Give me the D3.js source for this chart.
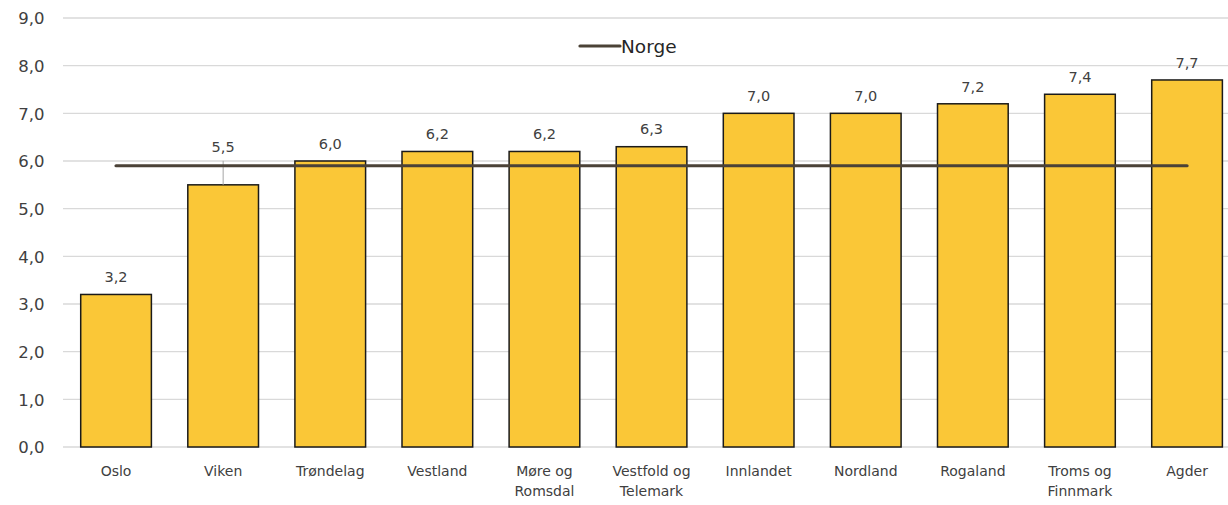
<!DOCTYPE html>
<html><head><meta charset="utf-8">
<script src="https://cdn.jsdelivr.net/npm/d3@7"></script>
<style>body{margin:0;background:#fff}svg{display:block}</style>
</head><body><svg id="c" width="1228" height="505"></svg>
<script>
const categories = ["Oslo","Viken","Trøndelag","Vestland","Møre og Romsdal","Vestfold og Telemark","Innlandet","Nordland","Rogaland","Troms og Finnmark","Agder"];
const values = [3.2,5.5,6.0,6.2,6.2,6.3,7.0,7.0,7.2,7.4,7.7];
const norge = [5.9,5.9,5.9,5.9,5.9,5.9,5.9,5.9,5.9,5.9,5.9];
const yTicks = [0,1,2,3,4,5,6,7,8,9];
const catLines = {"Møre og Romsdal":["Møre og","Romsdal"],"Vestfold og Telemark":["Vestfold og","Telemark"],"Troms og Finnmark":["Troms og","Finnmark"]};

const svg = d3.select("#c");
const font = "DejaVu Sans, Verdana, sans-serif";
const x = d3.scaleBand().domain(categories).range([62.5,1240.6]).paddingInner(0.34).paddingOuter(0.17);
const y = d3.scaleLinear().domain([0,9]).range([447,18]);
const fmt = v => d3.format(".1f")(v).replace(".",",");

const g = svg.append("g");
g.selectAll(".grid").data(yTicks).join("line")
  .attr("x1",63).attr("x2",1228).attr("y1",d=>y(d)).attr("y2",d=>y(d))
  .attr("stroke","#d9d9d9").attr("stroke-width",1.3);

const yAxis = d3.axisLeft(y).tickValues(yTicks).tickFormat(fmt).tickSize(0);
const ya = svg.append("g").attr("transform","translate(44.5,0)").call(yAxis);
ya.select(".domain").remove();
ya.selectAll("text").attr("font-family",font).attr("font-size",16.5).attr("fill","#404040").attr("x",0).attr("text-anchor","end").attr("dy","0.36em");

g.selectAll(".bar").data(values).join("rect")
  .attr("x",(d,i)=>x(categories[i])).attr("width",x.bandwidth())
  .attr("y",d=>y(d)).attr("height",d=>y(0)-y(d))
  .attr("fill","#fac737").attr("stroke","#1a1a1a").attr("stroke-width",1.5);

const lblOff = values.map((d,i)=> categories[i]==="Viken" ? 38.5 : 17.5);
g.selectAll(".leader").data(values).join("line")
  .filter((d,i)=>categories[i]==="Viken")
  .attr("x1",x("Viken")+x.bandwidth()/2).attr("x2",x("Viken")+x.bandwidth()/2)
  .attr("y1",d=>y(d)-24).attr("y2",d=>y(d)).attr("stroke","#a6a6a6").attr("stroke-width",1);

g.selectAll(".lbl").data(values).join("text")
  .attr("x",(d,i)=>x(categories[i])+x.bandwidth()/2)
  .attr("y",(d,i)=>y(d)-lblOff[i]).attr("dy","0.36em")
  .attr("text-anchor","middle").attr("font-family",font).attr("font-size",14.5).attr("fill","#404040")
  .text(fmt);

const line = d3.line().x((d,i)=>x(categories[i])+x.bandwidth()/2).y(d=>y(d));
g.append("path").datum(norge).attr("d",line).attr("fill","none")
  .attr("stroke","#4b4237").attr("stroke-width",3.2).attr("stroke-linecap","round");

const xa = svg.append("g");
categories.forEach(c=>{
  const lines = catLines[c] || [c];
  const t = xa.append("text").attr("x",x(c)+x.bandwidth()/2).attr("y",471).attr("dy","0.36em")
    .attr("text-anchor","middle").attr("font-family",font).attr("font-size",14).attr("fill","#404040");
  lines.forEach((l,j)=>t.append("tspan").attr("x",x(c)+x.bandwidth()/2).attr("dy",j?20:"0.36em").text(l));
});

const lg = svg.append("g");
lg.append("line").attr("x1",580).attr("x2",620).attr("y1",46).attr("y2",46)
  .attr("stroke","#4b4237").attr("stroke-width",3.2).attr("stroke-linecap","round");
lg.append("text").attr("x",621).attr("y",46).attr("dy","0.36em").attr("font-family",font)
  .attr("font-size",18.5).attr("fill","#262626").text("Norge");
</script></body></html>
